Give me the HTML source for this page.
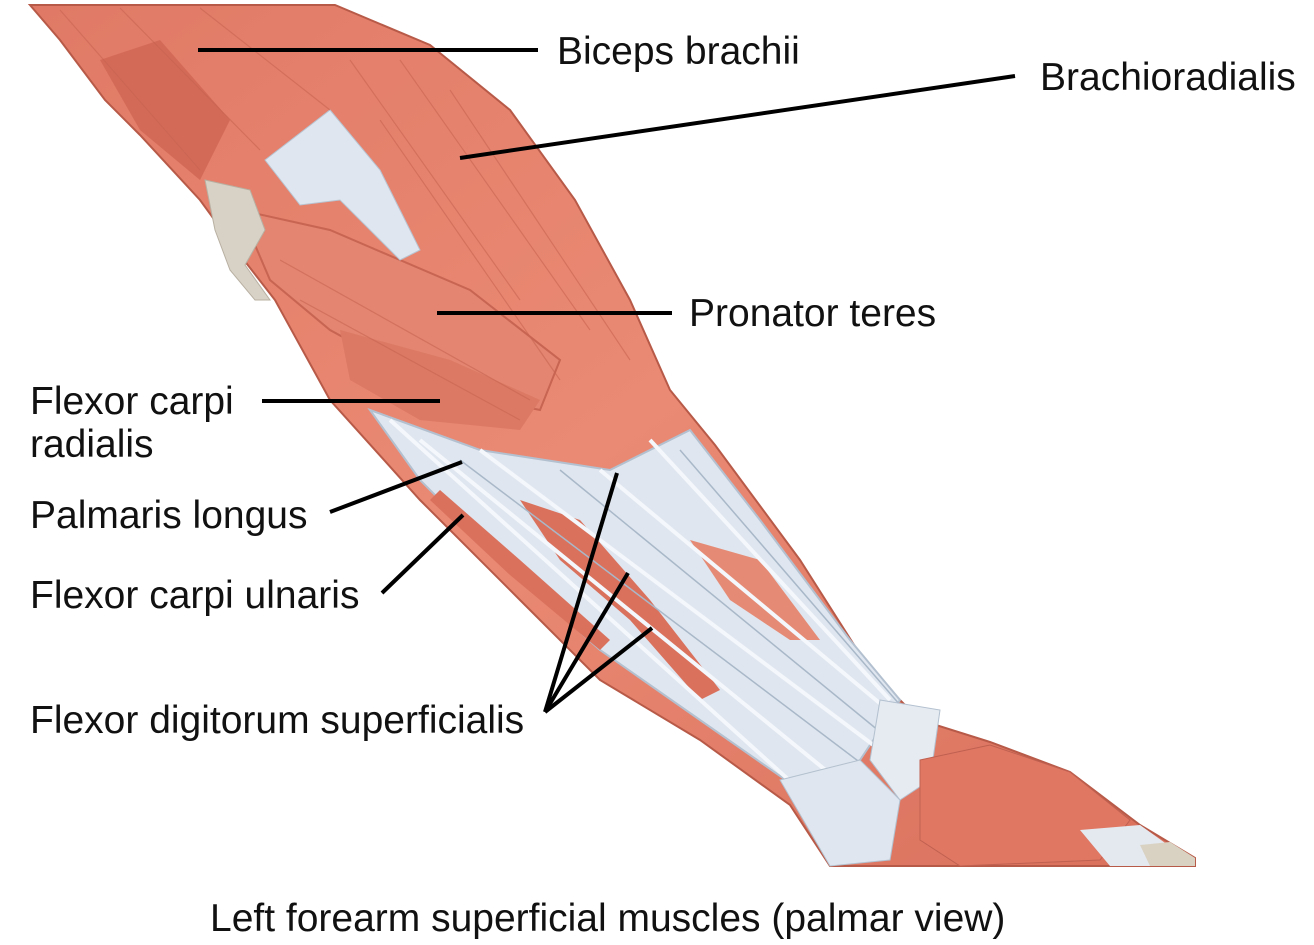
<!DOCTYPE html>
<html><head><meta charset="utf-8"><style>
html,body{margin:0;padding:0;background:#fff;}
svg{display:block;}
text{font-family:"Liberation Sans",Arial,sans-serif;font-size:39px;fill:#111;}
</style></head><body>
<svg width="1314" height="945" viewBox="0 0 1314 945" xmlns="http://www.w3.org/2000/svg">
<defs>
<linearGradient id="m" x1="0" y1="0" x2="1" y2="1">
<stop offset="0" stop-color="#e07a66"/><stop offset="0.5" stop-color="#ea8a74"/><stop offset="1" stop-color="#d9705c"/>
</linearGradient>
</defs>
<path d="M30,5 L335,5 L430,45 L510,110 L575,200 L630,300 L670,390 L715,445 L800,560 L870,670 L920,720 L990,742 L1070,772 L1140,825 L1195,858 L1195,866 L830,866 L790,805 L700,740 L600,680 L520,600 L420,500 L330,400 L275,300 L240,255 L200,200 L140,135 L105,100 L60,40 Z" fill="url(#m)" stroke="#b85a48" stroke-width="2"/>
<path d="M100,60 L160,40 L230,120 L200,180 L140,130 Z" fill="#d36a57"/>
<path d="M240,210 L330,230 L470,290 L560,360 L540,410 L440,390 L330,330 L270,280 Z" fill="#e38570" stroke="#c76452" stroke-width="2"/>
<path d="M340,330 L450,360 L540,400 L520,430 L420,420 L350,380 Z" fill="#db7964"/>
<path d="M205,180 L250,190 L265,230 L245,265 L270,300 L255,300 L230,270 L215,230 Z" fill="#d8d2c6" stroke="#b8b0a2"/>
<path d="M265,160 L330,110 L380,170 L420,250 L400,260 L340,200 L300,205 Z" fill="#dfe6ef" stroke="#b8c4d2"/>
<path d="M370,410 L480,450 L610,470 L690,430 L760,520 L850,640 L900,700 L860,760 L800,790 L700,720 L600,650 L500,560 L420,480 Z" fill="#dfe6ef" stroke="#b3c0cf" stroke-width="2"/>
<path d="M520,500 L580,520 L650,600 L720,690 L700,700 L630,620 L560,560 Z" fill="#d9715d"/>
<path d="M440,490 L520,560 L610,640 L600,650 L510,575 L430,500 Z" fill="#d9715d"/>
<path d="M690,540 L760,560 L820,640 L790,640 L730,600 Z" fill="#e58b75"/>
<g stroke="#f4f7fb" stroke-width="4" fill="none">
<path d="M480,450 L880,750"/><path d="M420,440 L850,790"/><path d="M600,470 L900,720"/><path d="M650,440 L890,700"/><path d="M390,420 L800,790"/>
</g>
<g stroke="#a9b8c9" stroke-width="1.5" fill="none">
<path d="M460,460 L870,770"/><path d="M560,470 L890,740"/><path d="M680,450 L900,705"/>
</g>
<path d="M780,780 L860,760 L900,800 L890,860 L830,866 Z" fill="#dfe6ef" stroke="#b3c0cf"/>
<path d="M880,700 L940,710 L930,780 L900,800 L870,760 Z" fill="#e6ebf2" stroke="#b3c0cf"/>
<path d="M920,760 L990,745 L1070,772 L1130,820 L1100,860 L960,866 L920,840 Z" fill="#df7763" stroke="#c06050"/>
<path d="M1080,830 L1140,825 L1175,850 L1195,860 L1195,866 L1110,866 Z" fill="#e4e9f0"/>
<path d="M1140,845 L1170,842 L1195,858 L1195,866 L1150,866 Z" fill="#d9d2c2"/>
<g stroke="#c86552" stroke-width="1.2" fill="none" opacity="0.6">
<path d="M60,10 L200,170"/><path d="M120,8 L260,150"/><path d="M200,8 L330,110"/>
<path d="M350,60 L520,300"/><path d="M400,60 L590,330"/><path d="M450,90 L630,360"/><path d="M380,120 L560,380"/>
<path d="M280,260 L530,400"/><path d="M300,300 L520,420"/>
</g>
<g stroke="#000" stroke-width="4" fill="none">
<line x1="198" y1="50" x2="538" y2="50"/>
<line x1="460" y1="158" x2="1015" y2="76"/>
<line x1="437" y1="313" x2="672" y2="313"/>
<line x1="262" y1="401" x2="440" y2="401"/>
<line x1="330" y1="512" x2="462" y2="462"/>
<line x1="382" y1="593" x2="463" y2="515"/>
<line x1="545" y1="712" x2="617" y2="473"/>
<line x1="545" y1="712" x2="628" y2="573"/>
<line x1="545" y1="712" x2="652" y2="628"/>
</g>
<text x="557" y="64">Biceps brachii</text>
<text x="1040" y="90">Brachioradialis</text>
<text x="689" y="326">Pronator teres</text>
<text x="30" y="414">Flexor carpi</text>
<text x="30" y="457">radialis</text>
<text x="30" y="528">Palmaris longus</text>
<text x="30" y="608">Flexor carpi ulnaris</text>
<text x="30" y="733">Flexor digitorum superficialis</text>
<text x="210" y="931">Left forearm superficial muscles (palmar view)</text>
</svg>
</body></html>
